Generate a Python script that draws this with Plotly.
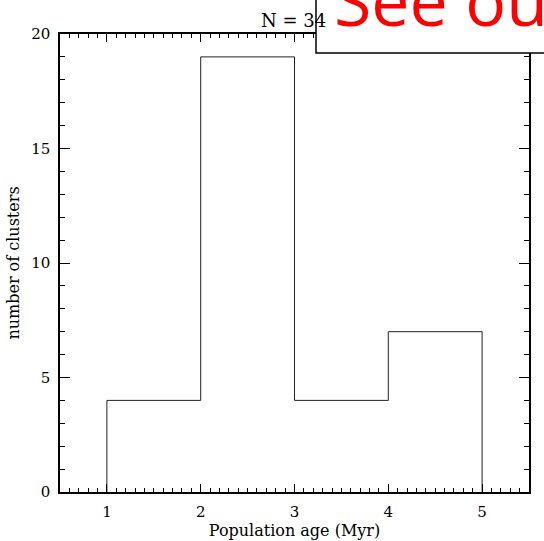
import plotly.graph_objects as go

# Histogram of cluster population ages
bin_edges = [1, 2, 3, 4, 5]
counts = [4, 19, 4, 7]
x_tick_vals = [1, 2, 3, 4, 5]
y_tick_vals = [0, 5, 10, 15, 20]
note_text = "See our"

# Step outline: rise at first edge, follow counts, drop at last edge
xs = [bin_edges[0]] + bin_edges[:-1] + [bin_edges[-1], bin_edges[-1]]
ys = [0] + counts + [counts[-1], 0]

W, H = 544, 541
L, R, T, B = 60, 15, 34, 49
pw, ph = W - L - R, H - T - B

def px_x(p):
    return (p - L) / pw

def px_y(p):
    return (H - B - p) / ph

serif = "DejaVu Serif"

fig = go.Figure()
fig.add_trace(go.Scatter(
    x=xs, y=ys, mode="lines", line=dict(color="#222", width=1, shape="hv"),
    hoverinfo="skip", showlegend=False,
))

axis_common = dict(
    showgrid=False, zeroline=False, showline=True, linecolor="black",
    linewidth=1.5, mirror="ticks", ticks="inside", tickcolor="black",
    tickfont=dict(family=serif, size=15, color="black"),
    ticklabelstandoff=5, automargin=False,
)

fig.update_xaxes(
    range=[0.5, 5.5], tickvals=x_tick_vals, ticklen=8, tickwidth=1,
    minor=dict(dtick=0.1, ticklen=4, tickwidth=1, ticks="inside", tickcolor="black"),
    title=dict(text="Population age (Myr)", font=dict(family=serif, size=16, color="black"),
               standoff=0),
    **axis_common,
)
fig.update_yaxes(
    range=[0, 20], tickvals=y_tick_vals, ticklen=10, tickwidth=1,
    minor=dict(dtick=1, ticklen=5, tickwidth=1, ticks="inside", tickcolor="black"),
    title=dict(text="number of clusters", font=dict(family=serif, size=16, color="black"),
               standoff=8),
    **axis_common,
)

fig.add_annotation(
    text=f"N = {sum(counts)}", xref="paper", yref="paper",
    x=px_x(293), y=px_y(20), xanchor="center", yanchor="middle",
    showarrow=False, font=dict(family=serif, size=18, color="black"),
)

fig.add_shape(
    type="rect", xref="paper", yref="paper", layer="above",
    x0=px_x(316), x1=px_x(640), y0=px_y(53), y1=px_y(-40),
    fillcolor="white", line=dict(color="black", width=1.5),
)
fig.add_annotation(
    text=note_text, xref="paper", yref="paper",
    x=px_x(332), y=px_y(0), xanchor="left", yanchor="middle",
    showarrow=False, font=dict(family="Open Sans", size=68, color="red"),
)

fig.update_layout(
    width=W, height=H, margin=dict(l=L, r=R, t=T, b=B),
    paper_bgcolor="white", plot_bgcolor="white",
)

fig.write_html("out.html")
